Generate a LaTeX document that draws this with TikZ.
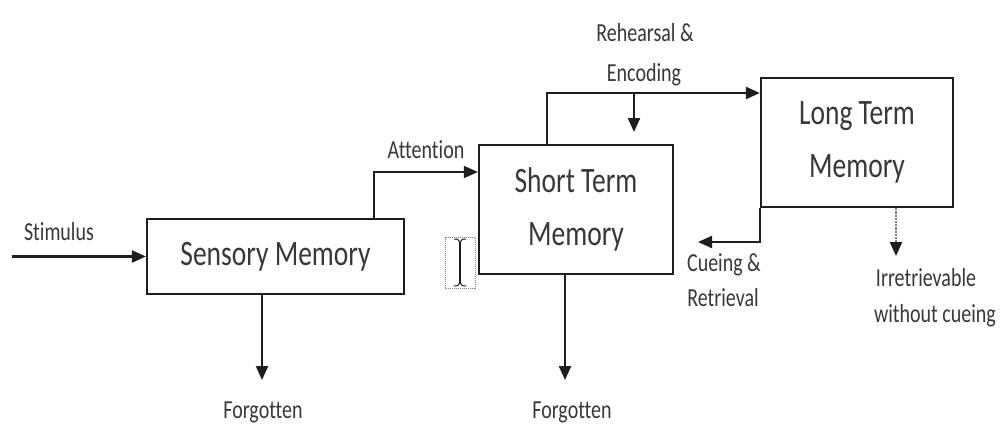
\documentclass[tikz,border=0pt]{standalone}
\usepackage{fontspec}
\usepackage{graphicx}
\setmainfont[Ligatures={NoCommon}]{Carlito}
\usetikzlibrary{arrows.meta}
\definecolor{linecol}{HTML}{1E1E1E}
\definecolor{txtcol}{HTML}{383838}
\newcommand{\vs}[1]{\scalebox{1}[1.3]{#1}}
\tikzset{
  membox/.style={draw=linecol, line width=2.2pt, inner sep=0pt, align=center,
    font=\fontsize{27.5}{53}\selectfont, text=txtcol},
  lbl/.style={font=\fontsize{20}{24}\selectfont, text=txtcol, inner sep=0pt},
  arr/.style={draw=linecol, line width=2.2pt, -{Triangle[length=14pt,width=12pt,color=linecol]}}
}
\begin{document}
\begin{tikzpicture}[x=1pt,y=-1pt]
\useasboundingbox[fill=white] (0,0) rectangle (1001,423);
% boxes
\node[membox, minimum width=257pt, minimum height=75pt] (sens) at (275.5,256.5) {\vs{Sensory Memory}};
\node[membox, minimum width=194pt, minimum height=129pt] (stm) at (576,209.5) {\vs{Short Term}\\\vs{Memory}};
\node[membox, minimum width=192pt, minimum height=129pt] (ltm) at (857,142.5) {\vs{Long Term}\\\vs{Memory}};
% labels
\node[lbl] (stim) at (59,232) {\vs{Stimulus}};
\node[lbl] (att) at (426,150) {\vs{Attention}};
\node[lbl] (reh) at (645,33) {\vs{Rehearsal \&}};
\node[lbl] (enc) at (644,75) {\vs{Encoding}};
\node[lbl] (cue) at (724,265) {\vs{Cueing \&}};
\node[lbl] (ret) at (723,298) {\vs{Retrieval}};
\node[lbl] (irr) at (926,278) {\vs{Irretrievable}};
\node[lbl] (wc) at (935,316) {\vs{without cueing}};
\node[lbl] (forg1) at (263,412) {\vs{Forgotten}};
\node[lbl] (forg2) at (572,412) {\vs{Forgotten}};
% helper coordinates
\coordinate (stimstart) at (12,256.5);
\coordinate (attx) at (374,0);
\coordinate (atty) at (0,172);
\coordinate (rehx) at (547,0);
\coordinate (rehy) at (0,93);
\coordinate (rd1) at (634,93);
\coordinate (rd2) at (634,132);
\coordinate (cueend) at (698,242);
\coordinate (irrx) at (896,0);
\coordinate (irrend) at (896,256);
\coordinate (f1x) at (262,0);
\coordinate (f1end) at (262,380);
\coordinate (f2x) at (565,0);
\coordinate (f2end) at (565,380);
% connectors
\draw[arr] (stimstart) -- (sens.west);
\draw[arr, line width=1.7pt] (sens.north -| attx) |- (stm.west |- atty);
\draw[arr] (stm.north -| rehx) |- (ltm.west |- rehy);
\draw[arr] (rd1) -- (rd2);
\draw[arr] (ltm.south west) |- (cueend);
\draw[arr, densely dotted, draw=gray] (ltm.south -| irrx) -- (irrend);
\draw[arr] (sens.south -| f1x) -- (f1end);
\draw[arr] (stm.south -| f2x) -- (f2end);
% cursor artifact
\draw[densely dotted, gray, line width=1pt] (445,237) rectangle (475,288);
\draw[linecol, line width=1.2pt] (460,242) -- (460,283);
\draw[linecol, line width=1pt] (454,239) .. controls (458,239) .. (460,243) .. controls (462,239) .. (466,239);
\draw[linecol, line width=1pt] (454,286) .. controls (458,286) .. (460,282) .. controls (462,286) .. (466,286);
\end{tikzpicture}
\end{document}
